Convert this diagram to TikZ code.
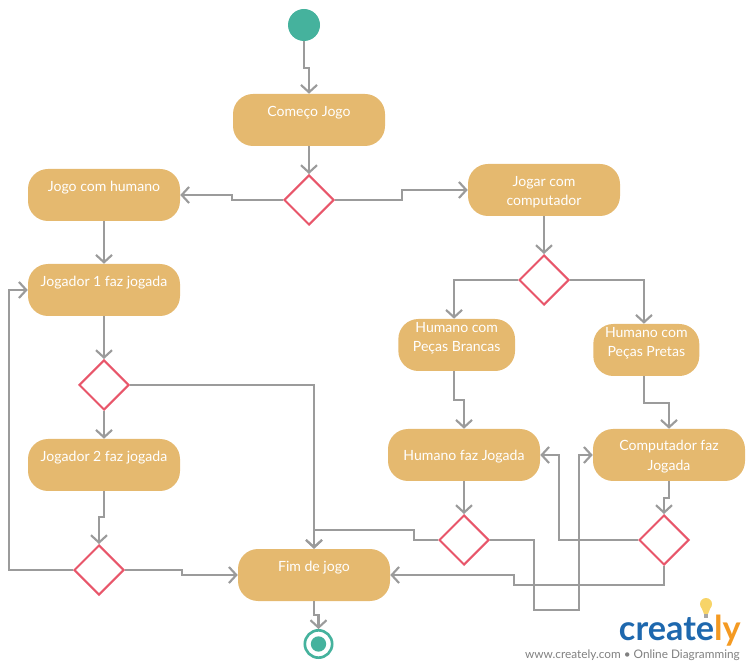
\documentclass[tikz,border=0pt]{standalone}
\usepackage{fontspec}
\setmainfont{Lato}
\usetikzlibrary{arrows.meta,shapes.geometric}
\definecolor{boxfill}{HTML}{E5B96F}
\definecolor{conncol}{HTML}{9B9B9B}
\definecolor{redline}{HTML}{E8566A}
\definecolor{teal}{HTML}{45B29D}
\definecolor{logoblue}{HTML}{1E68AE}
\definecolor{logoorange}{HTML}{F49A22}
\definecolor{bulb}{HTML}{F7D468}
\definecolor{urlgray}{HTML}{808080}
\newcommand{\blankline}{\\[-2.3pt]\rule{0pt}{0pt}}
\newcommand{\lifted}{\rule{0pt}{10.5pt}}
\tikzset{
 x=0.75pt,y=-0.75pt,
 act/.style={fill=boxfill,rounded corners=15pt,text=white,align=center,inner sep=0pt,
   minimum width=114pt,minimum height=39pt,font=\fontsize{10.55}{14.6}\selectfont},
 dec/.style={diamond,draw=redline,fill=white,line width=1.5pt,inner sep=0pt,aspect=1,
   minimum width=37.5pt,minimum height=37.5pt},
 conn/.style={draw=conncol,line width=1.6pt,
   -{Straight Barb[length=5.5pt,width=12pt,line width=1.6pt]}},
 startdot/.style={circle,fill=teal,inner sep=0pt,minimum size=24pt},
}
\begin{document}
\begin{tikzpicture}
\useasboundingbox (0,0) rectangle (754,670);
\node[startdot] (start) at (304,25) {};
\node[act] (comeco) at (309,120) {Começo Jogo\blankline};
\node[dec] (d1) at (309,200) {};
\node[act] (humano) at (104,195) {Jogo com humano\blankline};
\node[act] (computador) at (544,190) {\lifted Jogar com\\computador};
\node[dec] (d2) at (544,280) {};
\node[act,minimum width=87.5pt] (brancas) at (456.7,345) {Humano com\\Peças Brancas\blankline};
\node[act,minimum width=79.5pt] (pretas) at (646.3,350) {Humano com\\Peças Pretas\blankline};
\node[act] (hfaz) at (464,455) {\lifted Humano faz Jogada};
\node[act] (cfaz) at (669,455) {\lifted Computador faz\\Jogada};
\node[dec] (d3) at (464,540) {};
\node[dec] (d4) at (664,540) {};
\node[act] (fim) at (314,575) {Fim de jogo\blankline};
\node[circle,draw=teal,line width=2pt,fill=white,inner sep=0pt,minimum size=20.5pt] (endring) at (318.5,644) {};
\node[circle,fill=teal,inner sep=0pt,minimum size=11.5pt] (enddot) at (318.5,644) {};
\node[act] (j1) at (104,290) {Jogador 1 faz jogada\blankline};
\node[dec] (d5) at (104,385) {};
\node[act] (j2) at (104,465) {Jogador 2 faz jogada\blankline};
\node[dec] (d6) at (99,570) {};

\draw[conn] (start.south) -- ++(0,27) -- ++(5,0) -- (comeco.north);
\draw[conn] (comeco.south) -- (d1.north);
\draw[conn] (d1.west) -- ++(-51,0) |- (humano.east);
\draw[conn] (d1.east) -- ++(67,0) |- (computador.west);
\draw[conn] (computador.south) -- (d2.north);
\draw[conn] (d2.west) -| ([xshift=-2pt]brancas.north);
\draw[conn] (d2.east) -| ([xshift=-1.75pt]pretas.north);
\draw[conn] ([xshift=-2pt]brancas.south) -- ++(0,29) -| (hfaz.north);
\draw[conn] ([xshift=-1.75pt]pretas.south) -- ++(0,27) -| (cfaz.north);
\draw[conn] (hfaz.south) -- (d3.north);
\draw[conn] (cfaz.south) -- ++(0,17) -| (d4.north);
\draw[conn] (d3.west) -- ++(-24,0) -- ++(0,-10) -| (fim.north);
\draw[conn] (d3.east) -- ++(44,0) -- ++(0,70) -- ++(45,0) |- (cfaz.west);
\draw[conn] (d4.west) -- ++(-79,0) |- (hfaz.east);
\draw[conn] (d4.south) -- ++(0,19) -- ++(-150,0) |- (fim.east);
\draw[conn] (humano.south) -- (j1.north);
\draw[conn] (j1.south) -- (d5.north);
\draw[conn] (d5.south) -- (j2.north);
\draw[conn] (d5.east) -| (fim.north);
\draw[conn] (j2.south) -- ++(0,26) -| (d6.north);
\draw[conn] (d6.west) -- ++(-64,0) |- (j1.west);
\draw[conn] (d6.east) -- ++(57,0) |- (fim.west);
\draw[conn] (fim.south) -- ++(0,14) -| (endring.north);

% logo
\fill[bulb] (706,604) circle (4.5pt);
\fill[bulb] (700.8,606) -- (711.2,606) -- (708,614) -- (704,614) -- cycle;
\fill[urlgray!70] (704,614) rectangle (708,618);
\node[anchor=base east,inner sep=0pt,font=\fontsize{25.7}{26}\selectfont\bfseries] (logo) at (741,640)
  {\textcolor{logoblue}{create}\textcolor{logoorange}{ly}};
\node[anchor=base east,inner sep=0pt,text=urlgray,font=\fontsize{8.85}{10}\selectfont] (url) at (740,658)
  {www.creately.com • Online Diagramming};
\end{tikzpicture}
\end{document}
